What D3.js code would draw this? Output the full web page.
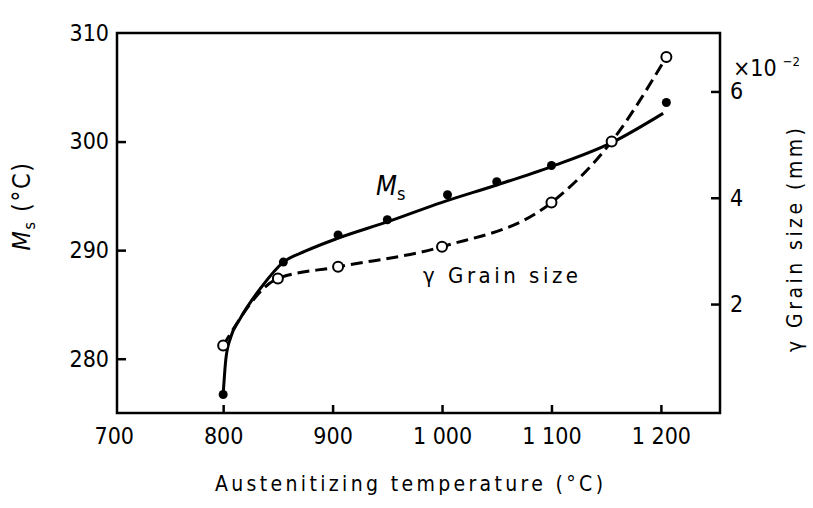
<!DOCTYPE html>
<html lang="en">
<head>
<meta charset="utf-8">
<title>Ms and grain size vs austenitizing temperature</title>
<script src="https://d3js.org/d3.v7.min.js"></script>
<style>
  body { margin: 0; background: #fff; }
  svg text { font-family: "Liberation Sans Narrow", "DejaVu Sans Condensed", "Liberation Sans", sans-serif; fill: #000; }
  .tick text { font-size: 23px; }
</style>
</head>
<body>
<div id="chart"></div>
<script>
// Ms points (filled dots), temperature in °C, Ms in °C
var msTemp = [800, 855, 905, 950, 1005, 1050, 1100, 1205];
var msVal  = [276.7, 288.9, 291.4, 292.8, 295.1, 296.3, 297.8, 303.6];

// hand-drawn Ms curve
var msCurveTemp = [800, 802.5, 807, 815, 835, 855, 875, 905, 950, 1000, 1050, 1100, 1155, 1202];
var msCurveVal  = [276.7, 280.0, 282.0, 283.6, 286.6, 288.9, 289.9, 291.1, 292.6, 294.4, 296.0, 297.7, 299.9, 302.6];

// austenite grain size points (open circles), x10^-2 mm
var gsTemp = [800, 850, 905, 1000, 1100, 1155, 1205];
var gsVal  = [1.22, 2.48, 2.70, 3.08, 3.91, 5.06, 6.65];

var xTicks = [700, 800, 900, 1000, 1100, 1200];
var yLeftTicks = [280, 290, 300, 310];
var yRightTicks = [2, 4, 6];

var W = 813, H = 508;
var pL = 117, pR = 720, pT = 33, pB = 413;

var svg = d3.select("#chart").append("svg")
    .attr("width", W)
    .attr("height", H);

var x = d3.scaleLinear().domain([703, 1254]).range([pL, pR]);
var yL = d3.scaleLinear().domain([275, 310]).range([pB, pT]);
var yR = d3.scaleLinear().domain([-0.05, 7.1]).range([pB, pT]);

// axes
var fmt = function(d) { return d3.format(",")(d).replace(",", " "); };

var gx = svg.append("g")
    .attr("transform", "translate(0," + pB + ")")
    .call(d3.axisBottom(x).tickValues(xTicks).tickSize(-8).tickPadding(10).tickFormat(fmt));

var gl = svg.append("g")
    .attr("transform", "translate(" + pL + ",0)")
    .call(d3.axisLeft(yL).tickValues(yLeftTicks).tickSize(-9).tickPadding(8));

var gr = svg.append("g")
    .attr("transform", "translate(" + pR + ",0)")
    .call(d3.axisRight(yR).tickValues(yRightTicks).tickSize(-9).tickPadding(10));

[gx, gl, gr].forEach(function(g) {
    g.select(".domain").remove();
    g.selectAll(".tick line").attr("stroke", "#000").attr("stroke-width", 2.5);
});
gx.selectAll(".tick").filter(function(d) { return d === 700; }).select("line").remove();
gl.selectAll(".tick").filter(function(d) { return d === 310; }).select("line").remove();
gx.selectAll(".tick text").attr("dy", "0.9em");

// frame
svg.append("rect")
    .attr("x", pL).attr("y", pT)
    .attr("width", pR - pL).attr("height", pB - pT)
    .attr("fill", "none")
    .attr("stroke", "#000")
    .attr("stroke-width", 2.5);

// Ms curve
var msLine = d3.line()
    .x(function(d, i) { return x(msCurveTemp[i]); })
    .y(function(d) { return yL(d); })
    .curve(d3.curveMonotoneX);

svg.append("path")
    .attr("d", msLine(msCurveVal))
    .attr("fill", "none")
    .attr("stroke", "#000")
    .attr("stroke-width", 3);

// grain size curve
var gsLine = d3.line()
    .x(function(d, i) { return x(gsTemp[i]); })
    .y(function(d) { return yR(d); })
    .curve(d3.curveMonotoneX);

svg.append("path")
    .attr("d", gsLine(gsVal))
    .attr("fill", "none")
    .attr("stroke", "#000")
    .attr("stroke-width", 3)
    .attr("stroke-dasharray", "12,6");

svg.selectAll(".msdot")
    .data(msVal)
    .enter().append("circle")
    .attr("class", "msdot")
    .attr("cx", function(d, i) { return x(msTemp[i]); })
    .attr("cy", function(d) { return yL(d); })
    .attr("r", 4.5)
    .attr("fill", "#000");

svg.selectAll(".gsdot")
    .data(gsVal)
    .enter().append("circle")
    .attr("class", "gsdot")
    .attr("cx", function(d, i) { return x(gsTemp[i]); })
    .attr("cy", function(d) { return yR(d); })
    .attr("r", 5)
    .attr("fill", "#fff")
    .attr("stroke", "#000")
    .attr("stroke-width", 2);

// curve labels
var msLab = svg.append("text")
    .attr("x", 376).attr("y", 195)
    .style("font-size", "27px")
    .style("font-style", "italic");
msLab.append("tspan").text("M");
msLab.append("tspan").attr("dy", 5).style("font-size", "18px").style("font-style", "normal").text("s");

svg.append("text")
    .attr("x", 423).attr("y", 283)
    .style("font-size", "22px")
    .attr("textLength", 155)
    .attr("lengthAdjust", "spacing")
    .text("γ Grain size");

// axis titles
svg.append("text")
    .attr("x", 409).attr("y", 491)
    .attr("text-anchor", "middle")
    .style("font-size", "21px")
    .attr("textLength", 388)
    .attr("lengthAdjust", "spacing")
    .text("Austenitizing temperature (°C)");

var ylab = svg.append("text")
    .attr("transform", "translate(30,206) rotate(-90)")
    .attr("text-anchor", "middle")
    .style("font-size", "25px")
    .style("letter-spacing", "1.5px");
ylab.append("tspan").style("font-style", "italic").text("M");
ylab.append("tspan").attr("dy", 5).style("font-size", "16px").text("s");
ylab.append("tspan").attr("dy", -5).text(" (°C)");

svg.append("text")
    .attr("transform", "translate(802,240) rotate(-90)")
    .attr("text-anchor", "middle")
    .style("font-size", "21px")
    .attr("textLength", 224)
    .attr("lengthAdjust", "spacing")
    .text("γ Grain size (mm)");

var mult = svg.append("text")
    .attr("x", 733).attr("y", 76)
    .style("font-size", "23px");
mult.append("tspan").text("×10");
mult.append("tspan").attr("dy", -10).attr("dx", 6).style("font-size", "13px").text("−2");
</script>
</body>
</html>
